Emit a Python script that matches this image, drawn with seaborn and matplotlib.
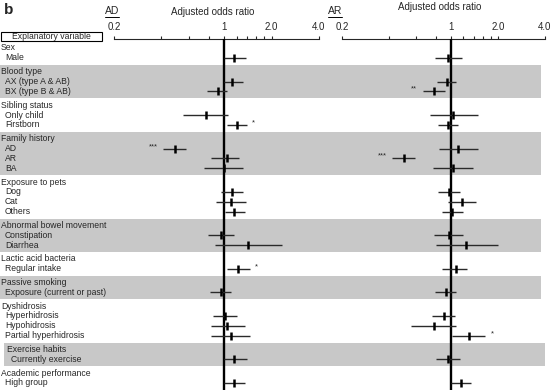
import numpy as np
import matplotlib
matplotlib.use("Agg")
import matplotlib.pyplot as plt
from matplotlib.patches import Rectangle
import seaborn as sns

# groups of explanatory variables (header, items)
groups = [
    ("Sex", ["Male"]),
    ("Blood type", ["AX (type A & AB)", "BX (type B & AB)"]),
    ("Sibling status", ["Only child", "Firstborn"]),
    ("Family history", ["AD", "AR", "BA"]),
    ("Exposure to pets", ["Dog", "Cat", "Others"]),
    ("Abnormal bowel movement", ["Constipation", "Diarrhea"]),
    ("Lactic acid bacteria", ["Regular intake"]),
    ("Passive smoking", ["Exposure (current or past)"]),
    ("Dyshidrosis", ["Hyperhidrosis", "Hypohidrosis", "Partial hyperhidrosis"]),
    ("Exercise habits", ["Currently exercise"]),
    ("Academic performance", ["High group"]),
]
shaded = [False, True, False, True, False, True, False, True, False, True, False]

# AD: adjusted odds ratio and 95% CI
ad_or = [1.15, 1.13, 0.91, 0.77, 1.20, 0.49, 1.04, 1.00, 1.13, 1.10, 1.15,
         0.96, 1.41, 1.22, 0.95, 1.01, 1.05, 1.10, 1.16, 1.15]
ad_lo = [1.00, 1.00, 0.78, 0.55, 1.04, 0.41, 0.83, 0.75, 0.96, 0.89, 1.01,
         0.79, 0.87, 1.05, 0.81, 0.85, 0.83, 0.83, 1.00, 1.00]
ad_hi = [1.37, 1.31, 1.05, 1.06, 1.39, 0.57, 1.25, 1.31, 1.31, 1.37, 1.35,
         1.15, 2.33, 1.45, 1.10, 1.20, 1.35, 1.45, 1.39, 1.35]
ad_sig = ["", "", "", "", "*", "***", "", "", "", "", "",
          "", "", "*", "", "", "", "", "", ""]

# AR: adjusted odds ratio and 95% CI
ar_or = [0.96, 0.94, 0.78, 1.03, 0.96, 1.11, 0.50, 1.03, 0.97, 1.17, 1.02,
         0.97, 1.25, 1.07, 0.93, 0.90, 0.78, 1.30, 0.96, 1.15]
ar_lo = [0.79, 0.81, 0.66, 0.73, 0.82, 0.84, 0.42, 0.77, 0.82, 0.95, 0.88,
         0.78, 0.80, 0.88, 0.79, 0.75, 0.55, 1.01, 0.80, 1.00]
ar_hi = [1.18, 1.08, 0.92, 1.48, 1.11, 1.48, 0.59, 1.38, 1.14, 1.45, 1.20,
         1.20, 2.00, 1.27, 1.08, 1.06, 1.08, 1.66, 1.14, 1.34]
ar_sig = ["", "", "**", "", "", "", "***", "", "", "", "",
          "", "", "", "", "", "", "*", "", ""]

tick_vals = [0.2, 0.4, 0.6, 0.8, 1, 1.2, 1.4, 1.6, 1.8, 2.0, 4.0]
tick_text = ["0.2", "", "", "", "1", "", "", "", "", "2.0", "4.0"]

sns.set_style("white")
plt.rcParams["font.family"] = ["Liberation Sans", "DejaVu Sans"]

W, H = 552, 390
fig = plt.figure(figsize=(W / 100, H / 100), dpi=100)

# background axes in pixel units for labels and bands
bg = fig.add_axes([0, 0, 1, 1])
bg.set_xlim(0, W)
bg.set_ylim(H, 0)
bg.axis("off")

# row layout
step, gap, y = 9.9, 13.7, 48.0
item_y = []
for gi, (head, items) in enumerate(groups):
    indent = 6 if head == "Exercise habits" else 0
    y_head = y
    bg.text(1 + indent, y, head, va="center", ha="left", fontsize=6.2)
    for it in items:
        y += step
        bg.text(5 + indent, y, it, va="center", ha="left", fontsize=6.2)
        item_y.append(y)
    if shaded[gi]:
        x0, x1 = (4, 545) if head == "Exercise habits" else (0, 541)
        bg.add_patch(Rectangle((x0, y_head - 6.3), x1 - x0, y - y_head + 12.9,
                               facecolor="#c8c8c8", edgecolor="none", zorder=0))
    y += gap

bg.add_patch(Rectangle((1, 32.3), 100.5, 8.6, facecolor="white",
                       edgecolor="black", lw=0.8))
bg.text(51, 36.8, "Explanatory variable", ha="center", va="center", fontsize=6.2)
bg.text(4, 10, "b", fontsize=11, fontweight="bold", va="center", ha="left")

panels = [
    ([114 / W, 0, 205 / W, (H - 39) / H], "AD", ad_or, ad_lo, ad_hi, ad_sig, 112, 12),
    ([342 / W, 0, 203 / W, (H - 39) / H], "AR", ar_or, ar_lo, ar_hi, ar_sig, 335, 7),
]

name_texts = []
for rect, name, est, lo, hi, sig, name_x, title_y in panels:
    ax = fig.add_axes(rect)
    ax.patch.set_alpha(0)
    ax.set_xscale("log")
    ax.set_xlim(0.2, 4.0)
    ax.set_ylim(H, 39)
    for s in ["left", "right", "bottom"]:
        ax.spines[s].set_visible(False)
    ax.spines["top"].set_linewidth(0.8)
    ax.xaxis.tick_top()
    ax.minorticks_off()
    ax.set_xticks(tick_vals)
    ax.set_xticklabels(tick_text)
    ax.tick_params(axis="x", direction="out", length=2.5, width=0.8, pad=2.5,
                   labelsize=7, top=True, bottom=False)
    ax.set_yticks([])
    ax.axvline(1, color="black", lw=1.7, zorder=3)
    ax.hlines(item_y, lo, hi, color="#2a2a2a", lw=1.0, zorder=4)
    sns.scatterplot(x=est, y=item_y, ax=ax, marker="|", s=36, color="black",
                    linewidth=1.8, zorder=5, legend=False)
    for e, l, h, yy, sg in zip(est, lo, hi, item_y, sig):
        if not sg:
            continue
        if e >= 1:
            ax.annotate(sg, (h, yy), xytext=(4, 1.5), textcoords="offset points",
                        ha="left", va="center", fontsize=5.5)
        else:
            ax.annotate(sg, (l, yy), xytext=(-4, 1.5), textcoords="offset points",
                        ha="right", va="center", fontsize=5.5)
    ax.set_xlabel("")
    ax.set_ylabel("")

    cx = (rect[0] + rect[2] / 2) * W
    bg.text(cx - 4, title_y, "Adjusted odds ratio", ha="center", va="center",
            fontsize=7)
    name_texts.append(bg.text(name_x, 11, name, ha="center", va="center",
                              fontsize=7.5))

# underline the panel names
fig.canvas.draw()
r = fig.canvas.get_renderer()
for t in name_texts:
    bb = t.get_window_extent(r)
    yline = H - bb.y0 + 1
    bg.plot([bb.x0, bb.x1], [yline, yline], color="black", lw=0.7)

fig.savefig("out.png", dpi=100)
